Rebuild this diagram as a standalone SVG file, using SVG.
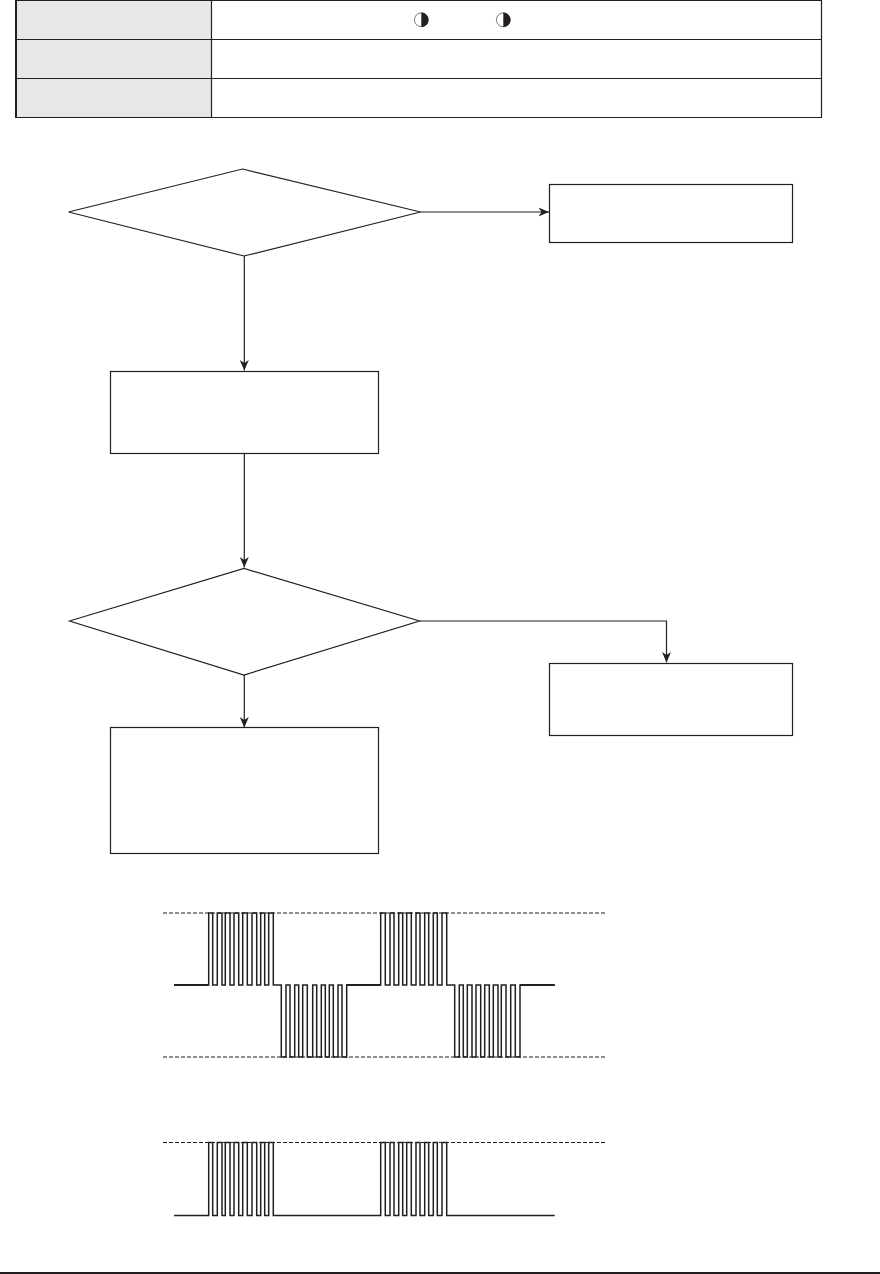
<svg xmlns="http://www.w3.org/2000/svg" width="880" height="1274" viewBox="0 0 880 1274">
<style>
.s{fill:none;stroke:#231f20;stroke-width:1.2}
.n{fill:#fff;stroke:#231f20;stroke-width:1.2}
.w{fill:none;stroke:#231f20;stroke-width:1.5;stroke-linejoin:miter}
.b{fill:none;stroke:#231f20;stroke-width:1.9}
.d{fill:none;stroke:#231f20;stroke-width:1;stroke-dasharray:4 2}
.k{fill:#231f20}
</style>
<defs>
<marker id="a" markerUnits="userSpaceOnUse" markerWidth="13" markerHeight="12" refX="10.500" refY="5.500" orient="auto">
<path d="M0 1 L10.500 5.500 L0 10 L3 5.500 Z" fill="#231f20"/>
</marker>
<symbol id="half" overflow="visible">
<circle cx="0" cy="0" r="6.9" fill="#fff" stroke="#231f20" stroke-width="0.6"/>
<path d="M0 -7.200 A7.200 7.200 0 0 1 0 7.200 Z" fill="#231f20"/>
</symbol>
</defs>
<rect width="880" height="1274" fill="#fff"/>
<g id="table">
<rect x="16" y="0.5" width="195.500" height="117" fill="#e6e7e8"/>
<path class="s" d="M16 0.5H821.500V117.500H16M16 39.500H821.500M16 78.500H821.500M211.500 0V117.500"/>
<rect class="k" x="15" y="0" width="2" height="118"/>
<use href="#half" x="421.300" y="19.800"/>
<use href="#half" x="503.300" y="19.800"/>
</g>
<g id="connectors">
<path class="s" d="M420 212H549" marker-end="url(#a)"/>
<path class="s" d="M244.300 256V370.500" marker-end="url(#a)"/>
<path class="s" d="M244.300 454V567.500" marker-end="url(#a)"/>
<path class="s" d="M420 621H666.500V662.500" marker-end="url(#a)"/>
<path class="s" d="M244.300 675V727.500" marker-end="url(#a)"/>
</g>
<g id="d1"><polygon class="n" points="68.500,212 242.500,169 420.500,212 244,256"/></g>
<g id="b1"><rect class="n" x="549.500" y="184.500" width="243" height="58"/></g>
<g id="b2"><rect class="n" x="110.500" y="371.500" width="268" height="82"/></g>
<g id="d2"><polygon class="n" points="69.500,621 244,568.500 419.500,621 244,675"/></g>
<g id="b3"><rect class="n" x="549.500" y="663.500" width="243" height="72"/></g>
<g id="b4"><rect class="n" x="110.500" y="727.500" width="268" height="126"/></g>
<g id="wave1">
<path class="d" d="M163 913H605M163 1057H605"/>
<path class="w" d="M174 985H208.700V913H212.700V985H217.300V913H222V985H225.300V913H230V985H234V913H238.700V985H242.700V913H247.300V985H252V913H256.700V985H260.700V913H264.700V985H268.700V913H273.300V985H281.300V1057H286V985H290V1057H294.700V985H298.700V1057H302.700V985H307.300V1057H312.700V985H316.700V1057H321.300V985H325.300V1057H329.300V985H333.300V1057H338V985H342V1057H346.700V985H380.700V913H385.300V985H390V913H394V985H398.700V913H402.700V985H406.700V913H411.300V985H416V913H420V985H424.700V913H428.700V985H433.300V913H437.300V985H442V913H446.700V985H454.700V1057H459.300V985H463.300V1057H467.300V985H472V1057H476V985H480.700V1057H484.700V985H489.300V1057H493.300V985H498V1057H501.300V985H506V1057H510.700V985H515.300V1057H520V985H554.700"/>
<path class="b" d="M174 985H208.700M346.700 985H380.700M520 985H554.700"/>
</g>
<g id="wave2">
<path class="d" d="M163 1142.500H605"/>
<path class="w" d="M174 1215.500H208.700V1142.500H212.700V1215.500H217.300V1142.500H222V1215.500H225.300V1142.500H230V1215.500H234V1142.500H238.700V1215.500H242.700V1142.500H247.300V1215.500H252V1142.500H256.700V1215.500H260.700V1142.500H264.700V1215.500H268.700V1142.500H273.300V1215.500H380.700V1142.500H385.300V1215.500H390V1142.500H394V1215.500H398.700V1142.500H402.700V1215.500H406.700V1142.500H411.300V1215.500H416V1142.500H420V1215.500H424.700V1142.500H428.700V1215.500H433.300V1142.500H437.300V1215.500H442V1142.500H446.700V1215.500H554.700"/>
</g>
<rect id="footer" class="k" x="0" y="1272" width="880" height="2"/>
</svg>
